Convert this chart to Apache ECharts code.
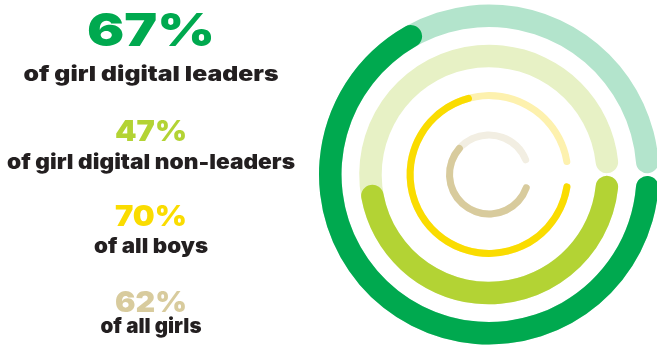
<!DOCTYPE html>
<html>
<head>
<meta charset="utf-8">
<script src="https://cdn.jsdelivr.net/npm/echarts@6/dist/echarts.min.js"></script>
<style>
html,body{margin:0;padding:0;background:#fff;}
#chart{width:657px;height:345px;}
</style>
</head>
<body>
<div id="chart"></div>
<script>
// ---- data ----
const groups = ['of girl digital leaders', 'of girl digital non-leaders', 'of all boys', 'of all girls'];
const values = [67, 47, 70, 62];
const valueLabels = ['67%', '47%', '70%', '62%'];

// ---- styles ----
const fgColors = ['#00a94f', '#b3d334', '#fadc00', '#d8cb9d'];
const bgColors = ['#b3e4cc', '#e7f1c5', '#fdf1ae', '#f2eee2'];
const ringOuter = [170, 129.8, 82.4, 43];
const ringWidth = [22.5, 22.5, 7, 7];
const ringStart = [-4.6, -6.1, -9.0, -19.7];      // gap below east
const trackEnd = [-355.5, -353.9, -350.5, -338.1];  // gap above east
const fgEnd = [-356.7, -353.9, -360.3, -345.0];     // angular scale of each ring's value arc
const center = [489, 174.5];

const series = [];
values.forEach(function (v, i) {
  const common = {
    type: 'gauge', center: center, radius: ringOuter[i], min: 0, max: 100,
    startAngle: ringStart[i], clockwise: true,
    pointer: {show: false}, anchor: {show: false}, axisTick: {show: false},
    splitLine: {show: false}, axisLabel: {show: false}, title: {show: false},
    detail: {show: false}, silent: true
  };
  series.push(Object.assign({}, common, {
    endAngle: trackEnd[i], z: 2,
    axisLine: {show: true, roundCap: true, lineStyle: {width: ringWidth[i], color: [[1, bgColors[i]]]}},
    progress: {show: false},
    data: [{value: v}]
  }));
  series.push(Object.assign({}, common, {
    endAngle: fgEnd[i], z: 3,
    axisLine: {show: false, lineStyle: {width: ringWidth[i]}},
    progress: {show: true, roundCap: true, width: ringWidth[i], itemStyle: {color: fgColors[i]}},
    data: [{value: v}]
  }));
});

const FONT = 'Inter, "Open Sans", Roboto, sans-serif';
const textX = 151;
const bigSize = [46, 29, 29, 29];
const bigBase = [46, 141.7, 226.7, 312.7];
const bigWidth = [128, 72, 72, 72];
const smallBase = [80.7, 168.3, 252.7, 332.7];
const smallWidth = [255, 288, 114, 101];
const smallSize = 20.5;

const mctx = document.createElement('canvas').getContext('2d');
function stretch(text, font, target) {
  mctx.font = font;
  const w = mctx.measureText(text).width;
  return w > 0 ? target / w : 1;
}

const graphics = [];
valueLabels.forEach(function (t, i) {
  const bf = '900 ' + bigSize[i] + 'px ' + FONT;
  graphics.push({
    type: 'text', x: textX, y: bigBase[i] - bigSize[i] * 0.36 + (i === 0 ? 2.5 : 1.5),
    scaleX: stretch(t, bf, bigWidth[i]),
    style: {text: t, fill: fgColors[i], font: bf, align: 'center', verticalAlign: 'middle'}
  });
  const sf = '900 ' + smallSize + 'px ' + FONT;
  graphics.push({
    type: 'text', x: textX, y: smallBase[i] - smallSize * 0.36 + 1.5,
    scaleX: stretch(groups[i], sf, smallWidth[i]),
    style: {text: groups[i], fill: '#231f20', font: sf, align: 'center', verticalAlign: 'middle'}
  });
});

const chart = echarts.init(document.getElementById('chart'), null, {renderer: 'canvas'});
chart.setOption({
  animation: false,
  backgroundColor: '#ffffff',
  series: series,
  graphic: graphics
});
</script>
</body>
</html>
